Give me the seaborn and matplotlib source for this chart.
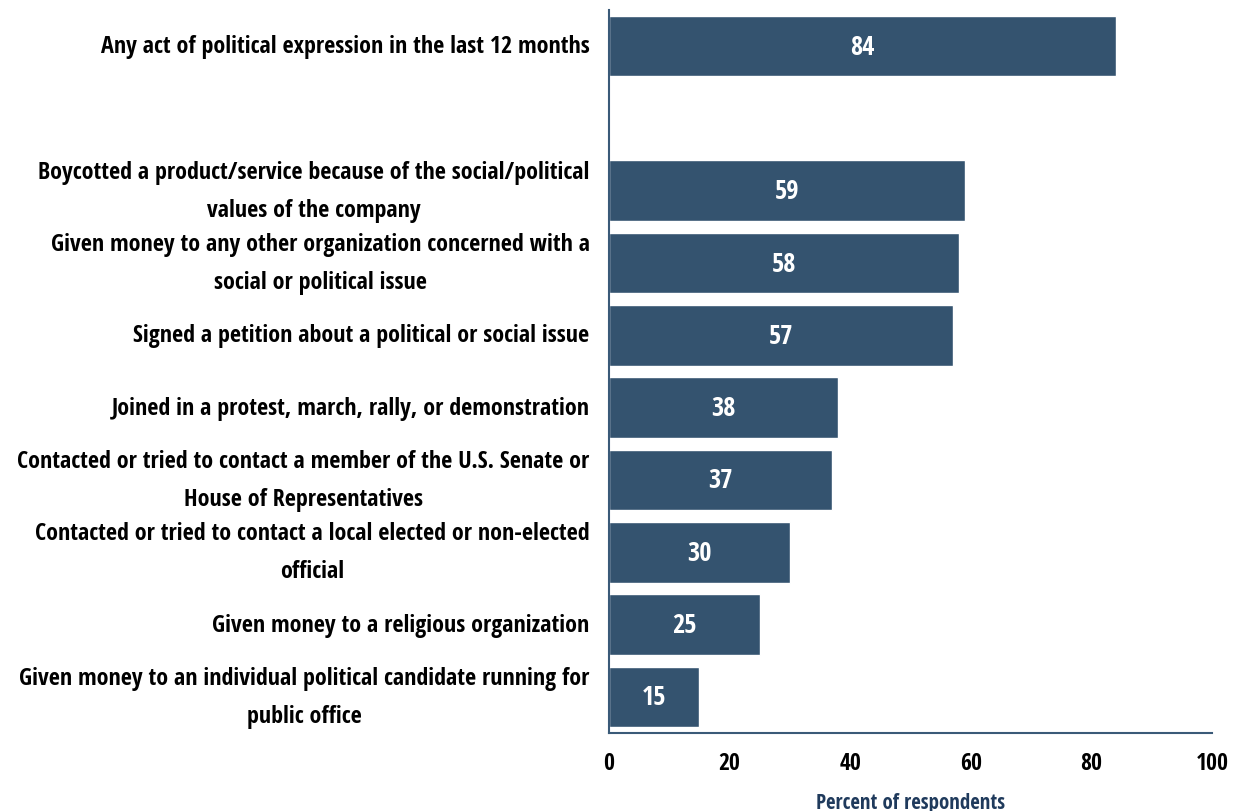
import matplotlib
matplotlib.use("Agg")
import matplotlib.pyplot as plt
import seaborn as sns
import pandas as pd
import numpy as np

# Survey items and the share of respondents reporting each act
activities = [
    "Any act of political expression in the last 12 months",
    "Boycotted a product/service because of the social/political\nvalues of the company",
    "Given money to any other organization concerned with a\nsocial or political issue",
    "Signed a petition about a political or social issue",
    "Joined in a protest, march, rally, or demonstration",
    "Contacted or tried to contact a member of the U.S. Senate or\nHouse of Representatives",
    "Contacted or tried to contact a local elected or non-elected\nofficial",
    "Given money to a religious organization",
    "Given money to an individual political candidate running for\npublic office",
]
percents = [84, 59, 58, 57, 38, 37, 30, 25, 15]
x_ticks = [0, 20, 40, 60, 80, 100]
x_label = "Percent of respondents"

# blank slot separating the summary row from the individual acts
spacer = " "
order = [activities[0], spacer] + activities[1:]

bar_color = "#34536f"
axis_color = "#3a5a78"

sns.set_theme(style="white")
plt.rcParams["font.family"] = ["Open Sans Condensed", "Carlito", "DejaVu Sans"]
plt.rcParams["font.weight"] = "bold"

df = pd.DataFrame({"activity": activities, "percent": percents})

fig = plt.figure(figsize=(12.34, 8.12), dpi=100)
ax = fig.add_axes([0.4935, 0.096, 0.4887, 0.8905])

sns.barplot(data=df, y="activity", x="percent", order=order, orient="h",
            color=bar_color, saturation=1, width=0.84, ax=ax)

ax.set_xlim(0, 100)
ax.set_ylim(9.5, -0.5)
ax.set_xticks(x_ticks)
ax.set_xticklabels([str(t) for t in x_ticks], fontsize=17, fontweight="bold", color="black")

ax.set_yticks(range(len(order)))
ax.set_yticklabels(order, fontsize=17.3, fontweight="bold", color="black",
                   multialignment="center", linespacing=1.8, va="center")
ax.tick_params(axis="y", which="major", length=0, pad=14)
ax.set_yticks(np.arange(-0.5, len(order), 1.0), minor=True)
ax.tick_params(axis="y", which="minor", length=6, width=1.5, color=axis_color, direction="out")
ax.tick_params(axis="x", which="major", length=6, width=1.5, color=axis_color, direction="out", pad=7)

for side in ("top", "right"):
    ax.spines[side].set_visible(False)
for side in ("left", "bottom"):
    ax.spines[side].set_color(axis_color)
    ax.spines[side].set_linewidth(1.5)

ax.set_ylabel("")
ax.set_xlabel(x_label, fontsize=15, fontweight="bold", color="#1f3a5c", labelpad=12)

for container in ax.containers:
    ax.bar_label(container, labels=[f"{v:.0f}" for v in container.datavalues],
                 label_type="center", color="white", fontsize=19, fontweight="bold")

fig.savefig("out.png", dpi=100)
